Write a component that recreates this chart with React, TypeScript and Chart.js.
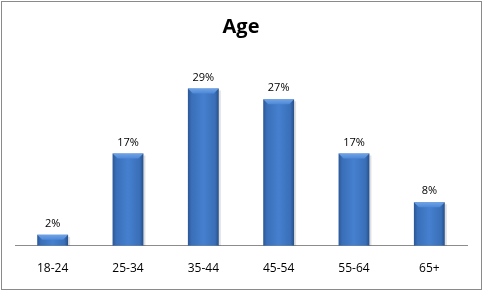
import React, { useEffect, useRef } from "react";
import { Chart, registerables } from "chart.js";

Chart.register(...registerables);

const categories = ["18-24", "25-34", "35-44", "45-54", "55-64", "65+"];
const values = [2, 17, 29, 27, 17, 8];
const valueLabels = ["2%", "17%", "29%", "27%", "17%", "8%"];
const chartTitle = "Age";

const barStylePlugin = {
  id: "barStyle",
  afterDatasetsDraw(chart: any) {
    const ctx = chart.ctx as CanvasRenderingContext2D;
    const meta = chart.getDatasetMeta(0);
    meta.data.forEach((bar: any, i: number) => {
      const { x, y, base, width } = bar.getProps(["x", "y", "base", "width"], true);
      const left = x - width / 2;
      const right = x + width / 2;
      const top = y;
      const h = base - top;
      ctx.save();
      ctx.fillStyle = "rgba(0,0,0,0.12)";
      ctx.fillRect(right, top + 2, 2, h - 2);
      const g = ctx.createLinearGradient(left, 0, right, 0);
      g.addColorStop(0, "#2b5795");
      g.addColorStop(0.12, "#3a6fb8");
      g.addColorStop(0.5, "#4580cf");
      g.addColorStop(0.88, "#3a6fb8");
      g.addColorStop(1, "#264f88");
      ctx.fillStyle = g;
      ctx.fillRect(left, top, width, h);
      const bev = Math.min(5, h / 2);
      const tg = ctx.createLinearGradient(0, top, 0, top + bev);
      tg.addColorStop(0, "#6fa3e6");
      tg.addColorStop(1, "#4d88d6");
      ctx.fillStyle = tg;
      ctx.beginPath();
      ctx.moveTo(left, top);
      ctx.lineTo(right, top);
      ctx.lineTo(right - bev, top + bev);
      ctx.lineTo(left + bev, top + bev);
      ctx.closePath();
      ctx.fill();
      ctx.fillStyle = "#000";
      ctx.font = "11px 'Open Sans', sans-serif";
      ctx.textAlign = "center";
      ctx.textBaseline = "middle";
      ctx.fillText(valueLabels[i], x, top - 11);
      ctx.restore();
    });
  },
};

export default function App() {
  const ref = useRef<HTMLCanvasElement>(null);
  useEffect(() => {
    if (!ref.current) return;
    const chart = new Chart(ref.current, {
      type: "bar",
      data: {
        labels: categories,
        datasets: [
          {
            data: values,
            backgroundColor: "rgba(0,0,0,0)",
            categoryPercentage: 1,
            barPercentage: 0.41,
          },
        ],
      },
      options: {
        animation: false,
        responsive: false,
        maintainAspectRatio: false,
        layout: { padding: { left: 13, right: 14, top: 0, bottom: -3 } },
        plugins: {
          legend: { display: false },
          tooltip: { enabled: false },
          title: {
            display: true,
            text: chartTitle,
            color: "#000",
            font: { family: "'Open Sans', sans-serif", size: 20, weight: "bold" },
            padding: { top: 13, bottom: 17 },
          },
        },
        scales: {
          x: {
            grid: { display: false, drawTicks: false },
            border: { display: true, color: "#8c8c8c", width: 1 },
            ticks: {
              color: "#000",
              padding: 16,
              font: { family: "'Open Sans', sans-serif", size: 12 },
            },
          },
          y: {
            display: false,
            min: 0,
            max: 35,
            grid: { display: false },
          },
        },
      },
      plugins: [barStylePlugin],
    });
    return () => chart.destroy();
  }, []);
  return (
    <div
      style={{
        position: "fixed",
        left: 1,
        top: 1,
        width: 481,
        height: 289,
        boxSizing: "border-box",
        border: "1px solid #8a8a8a",
        background: "#fff",
      }}
    >
      <canvas ref={ref} width={479} height={287} style={{ display: "block", width: 479, height: 287 }} />
    </div>
  );
}
